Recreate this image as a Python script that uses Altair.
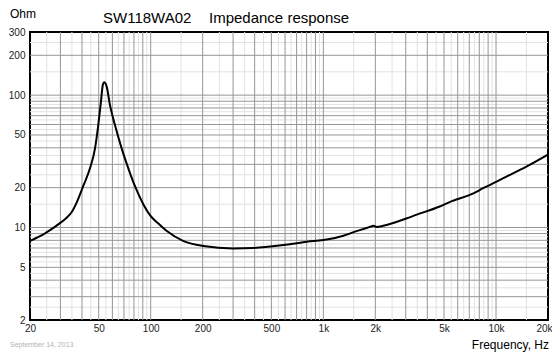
import altair as alt
import pandas as pd

# Impedance curve (frequency in Hz, impedance in Ohm)
freq = [20, 22, 24.3, 26.1, 29.7, 32, 34.9, 37.3, 40.7, 44.5, 47.6, 49.7, 51.5,
        52.9, 53.8, 55.6, 58.1, 62.1, 67.9, 74.2, 81.1, 90.6, 99, 110, 124, 155,
        202, 300, 394, 586, 802, 1000, 1308, 1430, 1626, 1860, 1950, 2034, 2220,
        3020, 3476, 4720, 5420, 7400, 8420, 11500, 15000, 20000]
imp = [7.9, 8.4, 9.0, 9.55, 10.75, 11.6, 13.1, 15.5, 20.6, 28.0, 39.6, 59.4, 89,
       120.7, 125, 116, 84, 59.4, 39.6, 28.0, 20.5, 15.0, 12.4, 10.8, 9.4, 7.9,
       7.25, 6.95, 7.0, 7.36, 7.8, 8.04, 8.66, 9.03, 9.55, 10.1, 10.3, 10.1, 10.3,
       11.7, 12.5, 14.4, 15.6, 18.1, 19.8, 24.2, 28.8, 35.5]

x_ticks = [20, 50, 100, 200, 500, 1000, 2000, 5000, 10000, 20000]
y_ticks = [2, 5, 10, 20, 50, 100, 200, 300]
x_domain = [20, 20000]
y_domain = [2, 300]

model_text = "SW118WA02"
title_text = "Impedance response"
y_unit = "Ohm"
x_unit = "Frequency, Hz"
date_text = "September 14, 2013"

FONT = "Liberation Sans, Arial, sans-serif"


def grid_values(lo, hi, offset):
    vals = []
    for d in (1, 10, 100, 1000, 10000):
        for k in range(1, 10):
            v = (k + offset) * d
            if lo < v < hi:
                vals.append(v)
    return vals


gx_major = pd.DataFrame({"v": grid_values(*x_domain, 0)})
gx_minor = pd.DataFrame({"v": grid_values(*x_domain, 0.5)})
gy_major = pd.DataFrame({"v": grid_values(*y_domain, 0)})
gy_minor = pd.DataFrame({"v": grid_values(*y_domain, 0.5)})

xs = alt.Scale(type="log", domain=x_domain, nice=False)
ys = alt.Scale(type="log", domain=y_domain, nice=False)

x_axis = alt.Axis(
    values=x_ticks, title=None, grid=False, ticks=False, tickSize=0,
    domain=False, labelFont=FONT, labelFontSize=10, labelColor="#222",
    labelPadding=3, labelFlush=False, labelOverlap=False,
    labelOffset={"condition": {"test": "datum.value >= 20000", "value": -4},
                 "value": 0},
    labelExpr="datum.value >= 1000 ? format(datum.value / 1000, 'd') + 'k' : format(datum.value, 'd')")
y_axis = alt.Axis(
    values=y_ticks, title=None, grid=False, ticks=False, tickSize=0,
    domain=False, labelFont=FONT, labelFontSize=10, labelColor="#222",
    labelPadding=5, labelFlush=False, labelOverlap=False, format="d")

LIGHT = "#e2e2e2"
DARK = "#969696"


def vrules(df, color):
    return alt.Chart(df).mark_rule(color=color, strokeWidth=1).encode(
        x=alt.X("v:Q", scale=xs, axis=x_axis))


def hrules(df, color):
    return alt.Chart(df).mark_rule(color=color, strokeWidth=1).encode(
        y=alt.Y("v:Q", scale=ys, axis=y_axis))


curve_df = pd.DataFrame({"f": freq, "z": imp})
curve = alt.Chart(curve_df).mark_line(
    color="black", strokeWidth=2, interpolate="monotone").encode(
    x=alt.X("f:Q", scale=xs, axis=x_axis),
    y=alt.Y("z:Q", scale=ys, axis=y_axis),
)


def label(text, x, y, size, align="left", color="black"):
    return alt.Chart(pd.DataFrame({"t": [text]})).mark_text(
        font=FONT, fontSize=size, align=align, baseline="alphabetic",
        color=color).encode(text="t:N", x=alt.value(x), y=alt.value(y))


chart = alt.layer(
    vrules(gx_minor, LIGHT), hrules(gy_minor, LIGHT),
    vrules(gx_major, DARK), hrules(gy_major, DARK),
    curve,
    label(model_text, 73, -9, 15),
    label(title_text, 179, -9, 15),
    label(y_unit, -20, -14.5, 12),
    label(x_unit, 519, 317, 12, align="right"),
    label(date_text, -20, 314.5, 7, color="#b4b4b4"),
).properties(
    width=518, height=288,
    padding={"left": 22, "top": 24, "right": 4, "bottom": 36},
    autosize=alt.AutoSizeParams(type="none"),
).configure_view(stroke="black", strokeWidth=2)

chart.save("out.html", embed_options={"renderer": "svg", "actions": False})
